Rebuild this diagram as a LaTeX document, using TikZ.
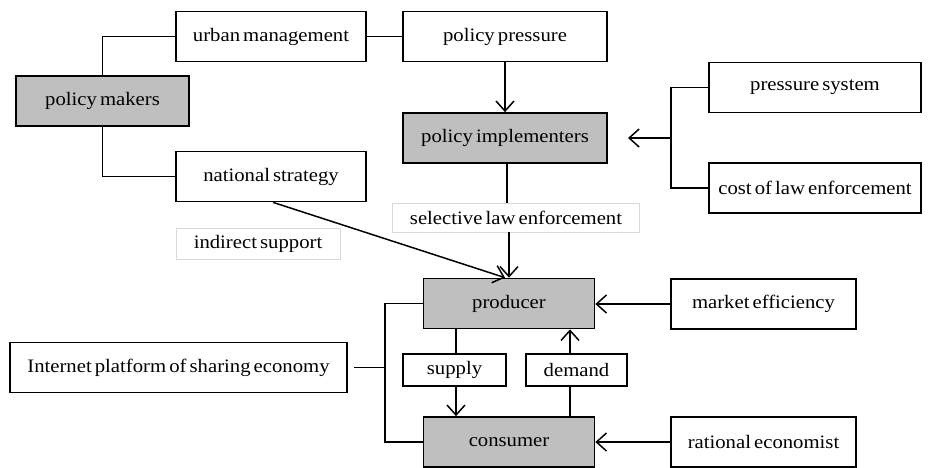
\documentclass[tikz,border=0pt]{standalone}
\usepackage{fontspec}
\setmainfont{Liberation Serif}[FakeStretch=1.09, WordSpace=0.6]
\usetikzlibrary{arrows.meta}

\begin{document}
\begin{tikzpicture}[x=1pt, y=-1pt,
    box/.style={draw, line width=1.7pt, inner sep=0pt, minimum height=50pt,
      font=\fontsize{19}{23}\selectfont},
    actor/.style={box, fill=black!25},
    tag/.style={draw=black!15, line width=0.8pt, inner sep=0pt,
      font=\fontsize{19}{23}\selectfont},
    link/.style={line width=1.5pt},
    arr/.style={link, -{Straight Barb[length=10pt, width=18pt, line width=1.5pt]}}]
    \useasboundingbox (0,0) rectangle (928,468);
    % government side
    \node[actor, minimum width=173pt] (makers) at (102.5,101) {policy makers};
    \node[box, minimum width=190pt] (urban) at (271,36.5) {urban management};
    \node[box, minimum width=190pt] (strategy) at (271,176.5) {national strategy};
    \node[box, minimum width=204pt] (pressure) at (505,36.5) {policy pressure};
    \node[actor, minimum width=204pt] (implementers) at (505,138) {policy implementers};
    \node[box, minimum width=212pt] (system) at (815,87.5) {pressure system};
    \node[box, minimum width=212pt] (cost) at (815,188) {cost of law enforcement};
    \node[tag, minimum width=247pt, minimum height=29pt] (selective) at (516,217.5) {selective law enforcement};
    \node[tag, minimum width=164pt, minimum height=31pt] (indirect) at (258,243.5) {indirect support};
    % market side
    \node[actor, minimum width=171pt] (producer) at (509,303.5) {producer};
    \node[actor, minimum width=171pt] (consumer) at (509,442) {consumer};
    \node[box, minimum width=103pt, minimum height=32pt] (supply) at (454.5,370) {supply};
    \node[box, minimum width=101pt, minimum height=32pt] (demand) at (576.5,370) {demand};
    \node[box, minimum width=185pt] (efficiency) at (763.5,304) {market efficiency};
    \node[box, minimum width=185pt] (economist) at (763.5,442) {rational economist};
    \node[box, minimum width=337pt] (platform) at (178.5,367.5) {Internet platform of sharing economy};
    \coordinate (fork) at (671,138);
    \coordinate (forktip) at (628,138);
    \coordinate (hub) at (385,367.5);

    % connectors
    \draw[link] (urban.west) -| (makers.north);
    \draw[link] (makers.south) |- (strategy.west);
    \draw[link] (urban) -- (pressure);
    \draw[arr] (pressure) -- (implementers);
    \draw[link] (system.west) -| (fork) |- (cost.west);
    \draw[arr] (fork) -- (forktip);
    \draw[link] ([xshift=2pt]implementers.south) -- ([xshift=2pt]implementers.south |- selective.north);
    \draw[arr] (producer.north |- selective.south) -- (producer.north);
    \draw[arr] ([xshift=2pt]strategy.south) -- ([xshift=-4pt]producer.north);
    \draw[arr] (efficiency.west) -- (efficiency.west -| producer.east);
    \draw[arr] (economist.west) -- (consumer.east);
    \draw[link] ([xshift=1.5pt]producer.south -| supply) -- ([xshift=1.5pt]supply.north);
    \draw[arr] ([xshift=1.5pt]supply.south) -- ([xshift=1.5pt]supply.south |- consumer.north);
    \draw[link] ([xshift=-6.5pt]consumer.north -| demand) -- ([xshift=-6.5pt]demand.south);
    \draw[arr] ([xshift=-6.5pt]demand.north) -- ([xshift=-6.5pt]demand.north |- producer.south);
    \draw[link] ([xshift=6pt]platform.east) -- (hub);
    \draw[link] (producer.west) -| (hub) |- (consumer.west);
\end{tikzpicture}
\end{document}
